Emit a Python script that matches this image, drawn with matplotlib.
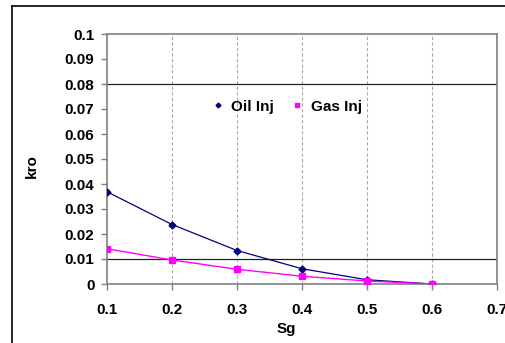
import matplotlib
matplotlib.use('Agg')
import matplotlib.pyplot as plt
from matplotlib.lines import Line2D

plt.rcParams['font.family'] = ['Liberation Sans', 'DejaVu Sans']
plt.rcParams['font.weight'] = 'bold'

sg = [0.1, 0.2, 0.3, 0.4, 0.5, 0.6]
kro_oil_inj = [0.0369, 0.0238, 0.0134, 0.0061, 0.0017, 0.0]
kro_gas_inj = [0.0141, 0.0096, 0.0059, 0.0031, 0.0012, 0.0]

x_ticks = [0.1, 0.2, 0.3, 0.4, 0.5, 0.6, 0.7]
y_ticks = [0, 0.01, 0.02, 0.03, 0.04, 0.05, 0.06, 0.07, 0.08, 0.09, 0.1]
x_grid = [0.2, 0.3, 0.4, 0.5, 0.6]
y_grid = [0.01, 0.08]

fig = plt.figure(figsize=(5.06, 3.43), dpi=100)
fig.patch.set_facecolor('white')

# outer chart border (top and left only visible)
fig.add_artist(Line2D([12/506, 1.0], [1 - 6/343, 1 - 6/343], color='black', lw=1.2))
fig.add_artist(Line2D([12/506, 12/506], [0, 1 - 6/343], color='black', lw=1.2))

ax = fig.add_axes([107/506, 1 - 284/343, 390/506, 250/343])

for xv in x_grid:
    ax.axvline(xv, color='#aaaaaa', lw=0.8, ls=(0, (3, 2)), zorder=1)
for yv in y_grid:
    ax.axhline(yv, color='#222222', lw=0.9, zorder=1)

ax.plot(sg, kro_oil_inj, color='#000080', lw=0.9, marker='D', ms=3.5, label='Oil Inj', zorder=3)
ax.plot(sg, kro_gas_inj, color='#ff00ff', lw=1.0, marker='s', ms=5, label='Gas Inj', zorder=3)

ax.set_xlim(0.1, 0.7)
ax.set_ylim(0, 0.1)
ax.set_xticks(x_ticks)
ax.set_yticks(y_ticks)
ax.set_xticklabels([f'{v:g}' for v in x_ticks])
ax.set_yticklabels([f'{v:g}' for v in y_ticks])
ax.tick_params(axis='both', direction='out', length=4, width=1, color='#808080',
               labelsize=11, pad=5)
ax.tick_params(axis='x', pad=10)

for s in ax.spines.values():
    s.set_color('#808080')
    s.set_linewidth(1.2)

ax.set_xlabel('Sg', fontsize=11, fontweight='bold')
ax.xaxis.set_label_coords(0.46, -0.15)
ax.set_ylabel('kro', fontsize=11, fontweight='bold')
ax.yaxis.set_label_coords(-0.175, 0.47)

ax.legend(loc='center', bbox_to_anchor=(0.463, 0.71), ncol=2, frameon=False,
          fontsize=11, handlelength=0.6, handletextpad=0.6, columnspacing=1.2,
          markerscale=0.7)
leg = ax.get_legend()
for h in leg.legend_handles:
    h.set_linestyle('none')

fig.savefig('out.png', dpi=100)
